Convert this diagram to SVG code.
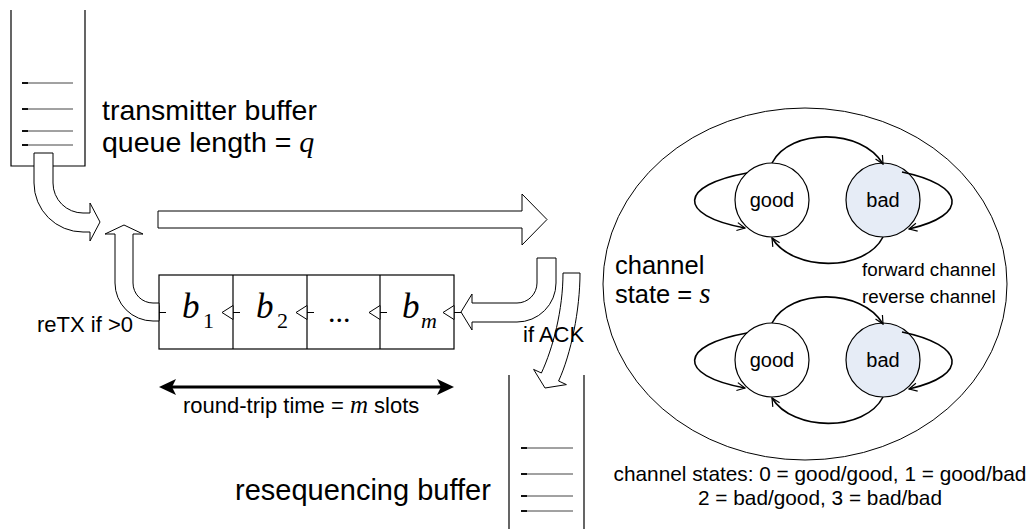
<svg xmlns="http://www.w3.org/2000/svg" width="1031" height="529" viewBox="0 0 1031 529">
<defs>
<style>
.t{font-family:"Liberation Sans",Arial,sans-serif;fill:#000}
.v{font-family:"Liberation Serif","Times New Roman",serif;font-style:italic}
.r{font-family:"Liberation Serif","Times New Roman",serif}
.ln{fill:none;stroke:#000;stroke-width:1.2}
.tube{fill:#fff;stroke:#000;stroke-width:1}
.q{stroke:#444;stroke-width:1}
.qk{stroke:#000;stroke-width:1.8}
.st{fill:#fff;stroke:#000;stroke-width:1.2}
.bad{fill:#e6ecf6}
.arc{fill:none;stroke:#000;stroke-width:1.6;marker-end:url(#v)}
.mk{fill:#fff;stroke:#000;stroke-width:1}
</style>
<marker id="v" viewBox="0 0 10 10" refX="9" refY="5" markerWidth="10" markerHeight="10" markerUnits="userSpaceOnUse" orient="auto">
<path d="M1,1 L9,5 L1,9" fill="none" stroke="#000" stroke-width="1.2"/>
</marker>
</defs>

<g id="transmitter-buffer">
<path class="ln" d="M11,10 V166 H85 V10"/>
<g>
<line class="q" x1="22" y1="83" x2="73" y2="83"/><line class="qk" x1="22" y1="83" x2="28" y2="83"/>
<line class="q" x1="22" y1="109" x2="73" y2="109"/><line class="qk" x1="22" y1="109" x2="28" y2="109"/>
<line class="q" x1="22" y1="131" x2="73" y2="131"/><line class="qk" x1="22" y1="131" x2="28" y2="131"/>
<line class="q" x1="22" y1="145" x2="73" y2="145"/><line class="qk" x1="22" y1="145" x2="28" y2="145"/>
</g>
<text class="t" x="102" y="120" font-size="28.5">transmitter buffer</text>
<text class="t" x="102" y="152" font-size="28.5">queue length = <tspan class="v" font-size="30">q</tspan></text>
</g>

<g id="register-box">
<rect x="159" y="275" width="295" height="74" fill="#fff" stroke="#000" stroke-width="1.2"/>
<line class="ln" x1="233" y1="275" x2="233" y2="349"/>
<line class="ln" x1="307" y1="275" x2="307" y2="349"/>
<line class="ln" x1="380" y1="275" x2="380" y2="349"/>
<g>
<path class="mk" d="M159,305.5 L148,312.5 L159,319.5 Z M159,312.5 H166"/>
<path class="mk" d="M233,305.5 L222,312.5 L233,319.5 Z M233,312.5 H240"/>
<path class="mk" d="M307,305.5 L296,312.5 L307,319.5 Z M307,312.5 H314"/>
<path class="mk" d="M380,305.5 L369,312.5 L380,319.5 Z M380,312.5 H387"/>
<path class="mk" d="M454,305.5 L443,312.5 L454,319.5 Z M454,312.5 H461"/>
</g>
<text x="182" y="318" font-size="35" class="v">b</text><text x="203" y="328" font-size="22" class="r">1</text>
<text x="256" y="318" font-size="35" class="v">b</text><text x="277" y="328" font-size="22" class="r">2</text>
<text x="328" y="322" font-size="30" class="r">...</text>
<text x="402" y="318" font-size="35" class="v">b</text><text x="421" y="328" font-size="22" class="v">m</text>
</g>

<g id="connectors">
<path class="tube" d="M34,153 L53,153 L53,183 A30,30 0 0 0 83,213 L90,213 L90,203 L100,222 L90,241 L90,232 L83,232 A49,49 0 0 1 34,183 Z"/>
<path class="tube" d="M159,303 L153,303 A20,20 0 0 1 133,283 L133,234 L143,234 L124,225 L105,234 L115,234 L115,283 A38,38 0 0 0 153,321 L159,321 Z"/>
<path class="tube" d="M158,211 L522,211 L522,194 L547,219.5 L522,245 L522,228 L158,228 Z"/>
<path class="tube" d="M537,258 L556,258 L556,283 A39,39 0 0 1 517,322 L472,322 L472,330 L461,312 L472,294 L472,303 L517,303 A20,20 0 0 0 537,283 Z"/>
<path class="tube" d="M563,273 L580,273 C580,310 571,354 558.6,381 L566.4,384.6 L545,388 L533.6,369.4 L541.4,373 C553,348 563,310 563,273 Z"/>
<path d="M170,387 H443" stroke="#000" stroke-width="3"/>
<path d="M159,387 L176,379 L172,387 L176,395 Z" fill="#000"/>
<path d="M454,387 L437,379 L441,387 L437,395 Z" fill="#000"/>
</g>

<g id="labels">
<text class="t" x="37" y="332" font-size="22">reTX if &gt;0</text>
<text class="t" x="523" y="342" font-size="22">if ACK</text>
<text class="t" x="183" y="413" font-size="22">round-trip time = <tspan class="v" font-size="25">m</tspan> slots</text>
</g>

<g id="resequencing-buffer">
<path class="ln" d="M509,375 V529 M584,375 V529"/>
<line class="q" x1="521" y1="448" x2="573" y2="448"/><line class="qk" x1="521" y1="448" x2="527" y2="448"/>
<line class="q" x1="521" y1="474" x2="573" y2="474"/><line class="qk" x1="521" y1="474" x2="527" y2="474"/>
<line class="q" x1="521" y1="496" x2="573" y2="496"/><line class="qk" x1="521" y1="496" x2="527" y2="496"/>
<line class="q" x1="521" y1="511" x2="573" y2="511"/><line class="qk" x1="521" y1="511" x2="527" y2="511"/>
<text class="t" x="235" y="500" font-size="29">resequencing buffer</text>
</g>

<g id="channel">
<ellipse cx="805" cy="284" rx="202" ry="176" fill="#fff" stroke="#000" stroke-width="1"/>
<text class="t" x="615" y="274" font-size="25.5">channel</text>
<text class="t" x="615" y="303" font-size="25.5">state = <tspan class="v" font-size="29">s</tspan></text>
<text class="t" x="862" y="276" font-size="18.8">forward channel</text>
<text class="t" x="862" y="303" font-size="18.8">reverse channel</text>
</g>

<g id="forward-good">
<circle class="st" cx="772" cy="200" r="37"/>
<text class="t" x="772" y="207" font-size="20" text-anchor="middle">good</text>
</g>
<g id="forward-bad">
<circle class="st bad" cx="883" cy="200" r="37"/>
<text class="t" x="883" y="207" font-size="20" text-anchor="middle">bad</text>
</g>
<g id="reverse-good">
<circle class="st" cx="772" cy="360" r="37"/>
<text class="t" x="772" y="367" font-size="20" text-anchor="middle">good</text>
</g>
<g id="reverse-bad">
<circle class="st bad" cx="883" cy="360" r="37"/>
<text class="t" x="883" y="367" font-size="20" text-anchor="middle">bad</text>
</g>

<g id="state-transitions">
<path class="arc" d="M772,163 C790,128 862,128 883,164"/>
<path class="arc" d="M883,237 C865,272 793,272 772,238"/>
<path class="arc" d="M747,173 C680,185 675,215 745,228"/>
<path class="arc" d="M902,172 C965,185 970,215 909,229"/>
<path class="arc" d="M772,323 C790,288 862,288 883,324"/>
<path class="arc" d="M883,397 C865,432 793,432 772,398"/>
<path class="arc" d="M747,333 C680,345 675,375 745,388"/>
<path class="arc" d="M902,332 C965,345 970,375 909,389"/>
</g>

<g id="legend">
<text class="t" x="820" y="481" font-size="20.8" text-anchor="middle">channel states: 0 = good/good, 1 = good/bad</text>
<text class="t" x="820" y="505" font-size="20.8" text-anchor="middle">2 = bad/good, 3 = bad/bad</text>
</g>
</svg>
